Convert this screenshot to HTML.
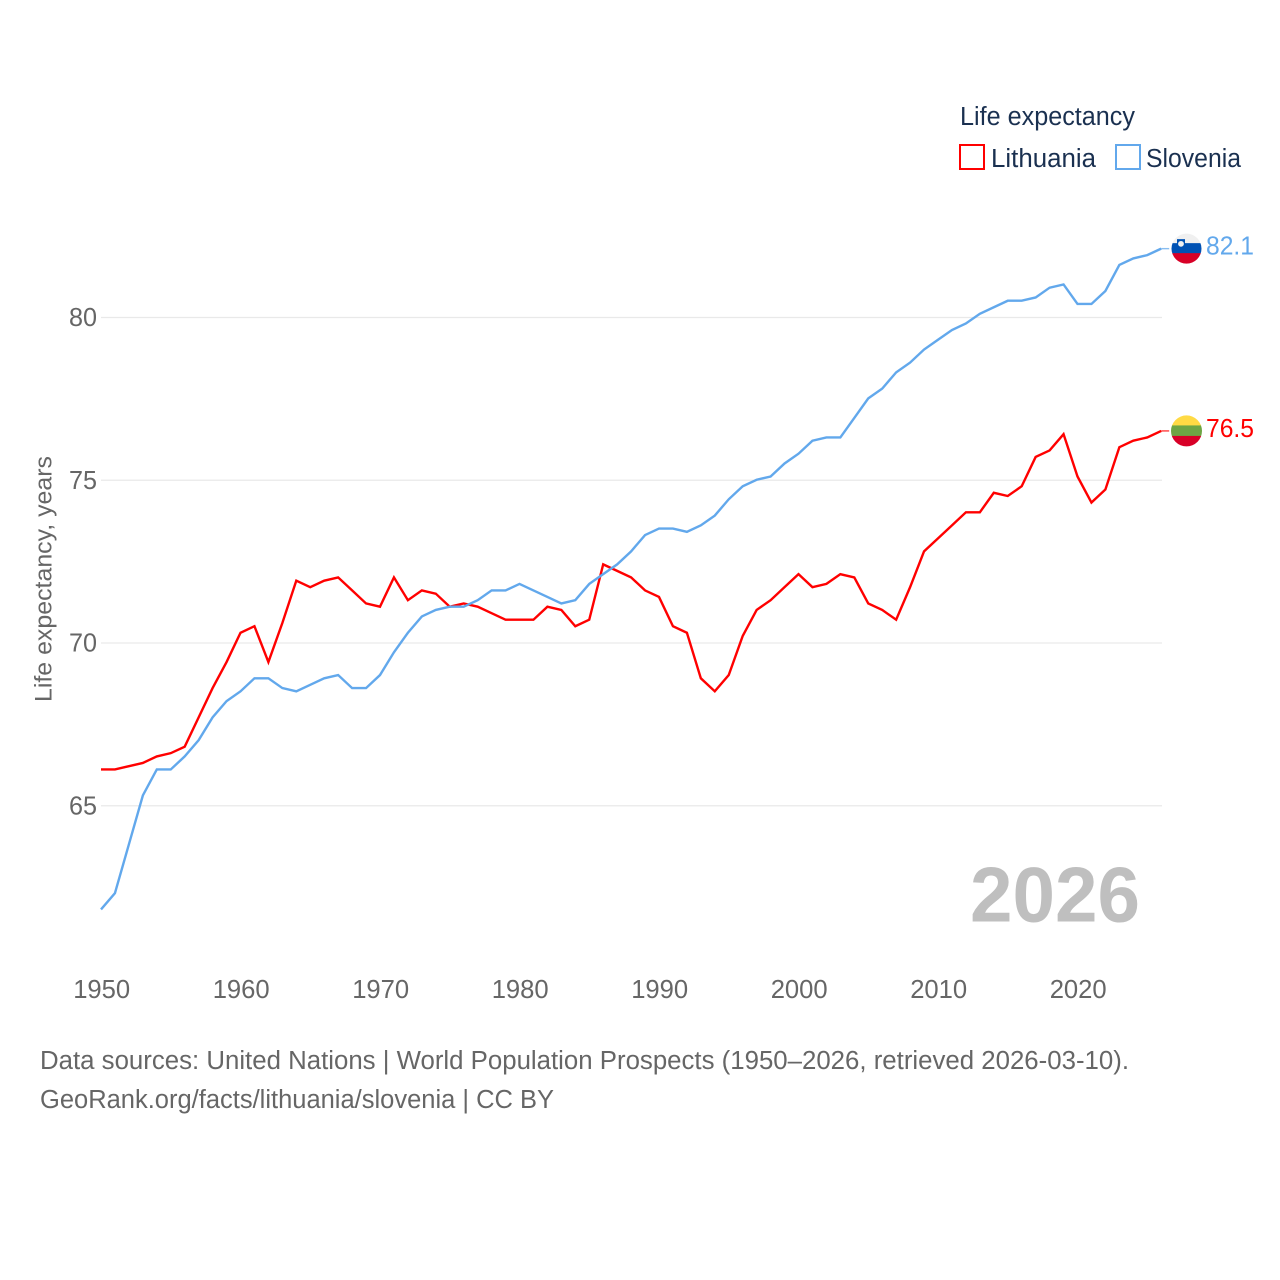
<!DOCTYPE html>
<html lang="en">
<head>
<meta charset="utf-8">
<title>Life expectancy: Lithuania and Slovenia</title>
<style>
html,body{margin:0;padding:0;background:#fff;width:1280px;height:1280px;overflow:hidden}
svg{display:block}
text{font-family:"Liberation Sans",sans-serif}
</style>
</head>
<body>
<svg id="chart" xmlns="http://www.w3.org/2000/svg" width="1280" height="1280" viewBox="0 0 1280 1280">
  <rect x="0" y="0" width="1280" height="1280" fill="#ffffff"/>
  <defs>
    <clipPath id="flag-clip-si"><circle id="clip-si" cx="1186.5" cy="248.5" r="15"/></clipPath>
    <clipPath id="flag-clip-lt"><circle id="clip-lt" cx="1186.5" cy="431" r="15.5"/></clipPath>
  </defs>
  <g id="grid"></g>
  <g id="y-ticks"></g>
  <g id="x-ticks"></g>
  <text transform="translate(51.5,702) rotate(-90)" font-size="24" fill="#666666" textLength="246" lengthAdjust="spacingAndGlyphs">Life expectancy, years</text>
  <text x="970" y="921.5" font-size="78" font-weight="700" fill="#bfbfbf" textLength="170" lengthAdjust="spacingAndGlyphs">2026</text>
  <g id="series"></g>
  <g id="flags"></g>
  <g>
    <text x="960" y="125" font-size="25.5" fill="#1a3050" textLength="175" lengthAdjust="spacingAndGlyphs">Life expectancy</text>
    <g>
      <rect x="960" y="145" width="24" height="24" fill="none" stroke="#ff0000" stroke-width="2"/>
      <text x="991" y="167" font-size="25.5" fill="#1a3050" textLength="105" lengthAdjust="spacingAndGlyphs">Lithuania</text>
    </g>
    <g>
      <rect x="1116" y="145" width="24" height="24" fill="none" stroke="#62a8ec" stroke-width="2"/>
      <text x="1146" y="167" font-size="25.5" fill="#1a3050" textLength="95" lengthAdjust="spacingAndGlyphs">Slovenia</text>
    </g>
  </g>
  <text x="40" y="1069" font-size="25.5" fill="#666666" textLength="1089" lengthAdjust="spacingAndGlyphs">Data sources: United Nations | World Population Prospects (1950–2026, retrieved 2026-03-10).</text>
  <text x="40" y="1108" font-size="25.5" fill="#666666" textLength="514" lengthAdjust="spacingAndGlyphs">GeoRank.org/facts/lithuania/slovenia | CC BY</text>
</svg>
<script>
const startYear = 1950;
const lithuania = [66.1,66.1,66.2,66.3,66.5,66.6,66.8,67.7,68.6,69.4,70.3,70.5,69.4,70.6,71.9,71.7,71.9,72.0,71.6,71.2,71.1,72.0,71.3,71.6,71.5,71.1,71.2,71.1,70.9,70.7,70.7,70.7,71.1,71.0,70.5,70.7,72.4,72.2,72.0,71.6,71.4,70.5,70.3,68.9,68.5,69.0,70.2,71.0,71.3,71.7,72.1,71.7,71.8,72.1,72.0,71.2,71.0,70.7,71.7,72.8,73.2,73.6,74.0,74.0,74.6,74.5,74.8,75.7,75.9,76.4,75.1,74.3,74.7,76.0,76.2,76.3,76.5];
const slovenia = [61.8,62.3,63.8,65.3,66.1,66.1,66.5,67.0,67.7,68.2,68.5,68.9,68.9,68.6,68.5,68.7,68.9,69.0,68.6,68.6,69.0,69.7,70.3,70.8,71.0,71.1,71.1,71.3,71.6,71.6,71.8,71.6,71.4,71.2,71.3,71.8,72.1,72.4,72.8,73.3,73.5,73.5,73.4,73.6,73.9,74.4,74.8,75.0,75.1,75.5,75.8,76.2,76.3,76.3,76.9,77.5,77.8,78.3,78.6,79.0,79.3,79.6,79.8,80.1,80.3,80.5,80.5,80.6,80.9,81.0,80.4,80.4,80.8,81.6,81.8,81.9,82.1];
const yTickValues = [65,70,75,80];
const xTickValues = [1950,1960,1970,1980,1990,2000,2010,2020];

const NS = 'http://www.w3.org/2000/svg';
function xScale(year){ return 101 + (year - 1950) * 13.95; }
function yScale(v){ return 317 + (80 - v) * 32.55; }
function make(tag, attrs, parent, txt){
  const el = document.createElementNS(NS, tag);
  for (const k in attrs) el.setAttribute(k, attrs[k]);
  if (txt !== undefined) el.textContent = txt;
  parent.appendChild(el);
  return el;
}
const grid = document.getElementById('grid');
const yTicks = document.getElementById('y-ticks');
const xTicks = document.getElementById('x-ticks');
const seriesG = document.getElementById('series');
const flags = document.getElementById('flags');

yTickValues.forEach(function(v){
  const gy = yScale(v) + 0.5;
  const line = make('line', {x1:101, x2:1162, y1:gy, y2:gy, stroke:'#e9e9e9', 'stroke-width':1.2}, grid);
  
  
  const t = make('text', {x:97, y:gy+8.5, 'text-anchor':'end', 'font-size':26, fill:'#666666', textLength:28, lengthAdjust:'spacingAndGlyphs'}, yTicks, String(v));
  
  
});
xTickValues.forEach(function(y){
  const t = make('text', {x:xScale(y)+0.7, y:998, 'text-anchor':'middle', 'font-size':26, fill:'#666666', textLength:57, lengthAdjust:'spacingAndGlyphs'}, xTicks, String(y));
  
  
});

function pointsOf(values){
  return values.map(function(v, i){ return xScale(startYear + i).toFixed(2) + ',' + yScale(v).toFixed(2); }).join(' ');
}
const lineLt = make('polyline', {points:pointsOf(lithuania), fill:'none', stroke:'#ff0000', 'stroke-width':2.4, 'stroke-linejoin':'miter'}, seriesG);


const lineSi = make('polyline', {points:pointsOf(slovenia), fill:'none', stroke:'#62a8ec', 'stroke-width':2.4, 'stroke-linejoin':'miter'}, seriesG);



const lastX = xScale(startYear + lithuania.length - 1);
const ltY = yScale(lithuania[lithuania.length - 1]);
const siY = yScale(slovenia[slovenia.length - 1]);

const stubLt = make('line', {x1:lastX, x2:lastX + 8, y1:ltY, y2:ltY, stroke:'#ff0000', 'stroke-width':1.4, opacity:0.75}, seriesG);


const stubSi = make('line', {x1:lastX, x2:lastX + 8, y1:siY, y2:siY, stroke:'#62a8ec', 'stroke-width':1.4, opacity:0.75}, seriesG);



const fx = 1186.5;
const siC = siY;
const ltC = ltY;
document.getElementById('clip-si').setAttribute('cy', siC);
document.getElementById('clip-lt').setAttribute('cy', ltC);

const flagSi = make('g', {'clip-path':'url(#flag-clip-si)'}, flags);


make('rect', {x:fx-16, y:siC-16, width:32, height:11, fill:'#f0f0f0'}, flagSi);
make('rect', {x:fx-16, y:siC-5.5, width:32, height:10.5, fill:'#0052b4'}, flagSi);
make('rect', {x:fx-16, y:siC+4.5, width:32, height:11.5, fill:'#d80027'}, flagSi);
make('path', {d:'M'+(fx-9.5)+' '+(siC-9.5)+'h8v6l-4 3.5l-4-3.5z', fill:'#0052b4'}, flagSi);
make('circle', {cx:fx-5.5, cy:siC-4.8, r:2.9, fill:'#f0f0f0'}, flagSi);

const flagLt = make('g', {'clip-path':'url(#flag-clip-lt)'}, flags);


make('rect', {x:fx-16, y:ltC-16, width:32, height:11, fill:'#ffda44'}, flagLt);
make('rect', {x:fx-16, y:ltC-5.5, width:32, height:11, fill:'#6da544'}, flagLt);
make('rect', {x:fx-16, y:ltC+5, width:32, height:11, fill:'#d80027'}, flagLt);

const valSi = make('text', {x:1206, y:siY+6, 'font-size':26, fill:'#62a8ec', textLength:48, lengthAdjust:'spacingAndGlyphs'}, flags, slovenia[slovenia.length - 1].toFixed(1));


const valLt = make('text', {x:1206, y:ltY+6, 'font-size':26, fill:'#ff0000', textLength:48, lengthAdjust:'spacingAndGlyphs'}, flags, lithuania[lithuania.length - 1].toFixed(1));


</script>
</body>
</html>
